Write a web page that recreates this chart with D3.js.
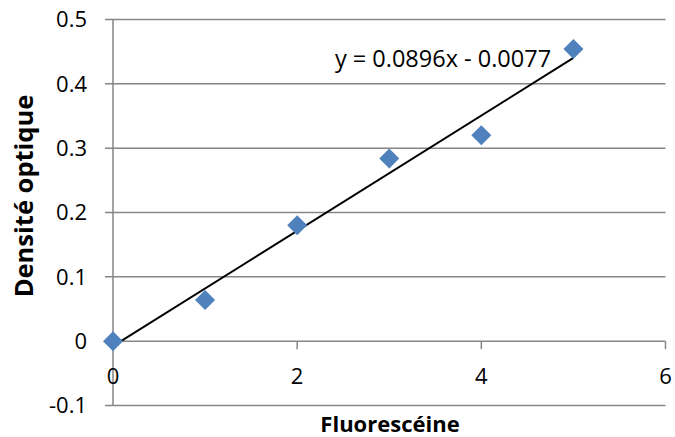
<!DOCTYPE html>
<html>
<head>
<meta charset="utf-8">
<script src="https://cdn.jsdelivr.net/npm/d3@7"></script>
<style>
  body { margin: 0; background: #fff; }
  text { font-family: "Open Sans", sans-serif; fill: #000; }
</style>
</head>
<body>
<svg></svg>
<script>
// Data
const concentrations = [0, 1, 2, 3, 4, 5];
const densities = [0, 0.064, 0.18, 0.284, 0.32, 0.454];
const slope = 0.0896;
const intercept = -0.0077;
const xTicks = [0, 2, 4, 6];
const yTicks = [-0.1, 0, 0.1, 0.2, 0.3, 0.4, 0.5];

const W = 675, H = 437;
const margin = { l: 113, r: 10, t: 19.5, b: 31.5 };
const height = H - margin.t - margin.b;
const grey = "#868686";

const svg = d3.select("svg")
  .attr("width", W)
  .attr("height", H);

const g = svg.append("g")
  .attr("transform", `translate(${margin.l}, ${margin.t})`);

// Scales
const xScale = d3.scaleLinear().domain([0, 6]).range([0, 552.5]);
const yScale = d3.scaleLinear().domain([-0.1, 0.5]).range([height, 0]);

// Horizontal gridlines + left ticks
g.selectAll(".grid")
  .data(yTicks)
  .enter()
  .append("line")
    .attr("x1", -8)
    .attr("x2", xScale(6))
    .attr("y1", d => yScale(d))
    .attr("y2", d => yScale(d))
    .attr("stroke", grey)
    .attr("stroke-width", 1.5);

// Vertical axis
g.append("line")
  .attr("x1", 0).attr("x2", 0)
  .attr("y1", yScale(0.5)).attr("y2", yScale(-0.1))
  .attr("stroke", grey)
  .attr("stroke-width", 1.5);

// Y tick labels
g.selectAll(".ylab")
  .data(yTicks)
  .enter()
  .append("text")
    .attr("x", -26)
    .attr("y", d => yScale(d))
    .attr("dy", "0.36em")
    .attr("text-anchor", "end")
    .attr("font-size", 22)
    .text(d => String(+d.toFixed(1)));

// X axis (at y = 0)
const y0 = yScale(0);
g.selectAll(".xtick")
  .data(xTicks.filter(d => d > 0))
  .enter()
  .append("line")
    .attr("x1", d => xScale(d))
    .attr("x2", d => xScale(d))
    .attr("y1", y0)
    .attr("y2", y0 + 8)
    .attr("stroke", grey)
    .attr("stroke-width", 1.5);

g.selectAll(".xlab")
  .data(xTicks)
  .enter()
  .append("text")
    .attr("x", d => xScale(d))
    .attr("y", y0 + 43)
    .attr("text-anchor", "middle")
    .attr("font-size", 22)
    .text(d => d);

// Trendline
g.append("line")
  .attr("x1", xScale(0))
  .attr("y1", yScale(intercept))
  .attr("x2", xScale(5))
  .attr("y2", yScale(slope * 5 + intercept))
  .attr("stroke", "#000")
  .attr("stroke-width", 2);

// Points
g.selectAll(".dot")
  .data(concentrations)
  .enter()
  .append("path")
    .attr("d", d3.symbol(d3.symbolSquare, 200))
    .attr("transform", (d, i) => `translate(${xScale(d)}, ${yScale(densities[i])}) rotate(45)`)
    .attr("fill", "#4F81BD");

// Equation label
g.append("text")
  .attr("x", 443 - margin.l)
  .attr("y", 67 - margin.t)
  .attr("text-anchor", "middle")
  .attr("font-size", 23.5)
  .text(`y = ${slope}x - ${Math.abs(intercept)}`);

// Axis titles
svg.append("text")
  .attr("x", 390)
  .attr("y", 432)
  .attr("text-anchor", "middle")
  .attr("font-size", 22)
  .attr("font-weight", "bold")
  .text("Fluorescéine");

svg.append("text")
  .attr("transform", "translate(33, 196) rotate(-90)")
  .attr("text-anchor", "middle")
  .attr("font-size", 25.5)
  .attr("font-weight", "bold")
  .text("Densité optique");
</script>
</body>
</html>
